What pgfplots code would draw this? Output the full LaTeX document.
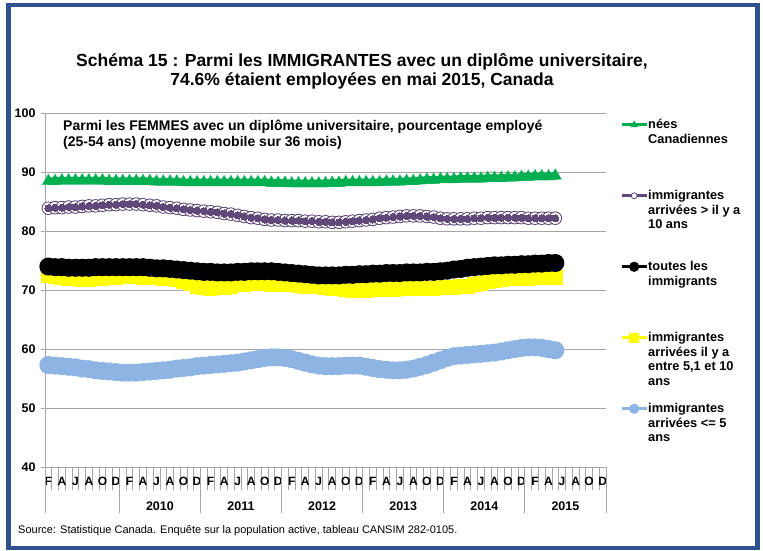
\documentclass[border=0pt]{standalone}
\usepackage{pgfplots}
\usepackage{pgfplotstable}
\pgfplotsset{compat=1.18}
\usepackage{fontspec}
\setmainfont{Liberation Sans}
\definecolor{cgreen}{RGB}{0,176,80}
\definecolor{cpurple}{RGB}{96,73,122}
\definecolor{cyellow}{RGB}{255,255,0}
\definecolor{cblue}{RGB}{141,180,226}
\definecolor{cgrid}{RGB}{166,166,166}
\definecolor{frameblue}{RGB}{47,82,143}
\pgfplotstableread{
x g p k y b
0 88.5 83.9 74.0 72.5 57.3
1 88.5 84.0 73.9 72.3 57.2
2 88.6 84.0 73.9 72.1 57.1
3 88.6 84.1 73.8 72.0 57.0
4 88.6 84.1 73.8 71.9 56.9
5 88.6 84.2 73.8 71.8 56.7
6 88.6 84.3 73.8 71.8 56.6
7 88.6 84.3 73.9 71.9 56.4
8 88.6 84.4 73.9 72.0 56.3
9 88.5 84.5 73.9 72.1 56.2
10 88.5 84.5 73.9 72.2 56.1
11 88.5 84.6 73.9 72.3 56.0
12 88.5 84.6 73.9 72.3 56.0
13 88.5 84.6 73.9 72.3 56.0
14 88.5 84.5 73.9 72.2 56.1
15 88.5 84.4 73.8 72.2 56.2
16 88.4 84.3 73.7 72.1 56.3
17 88.4 84.1 73.7 72.0 56.4
18 88.4 84.0 73.6 71.9 56.5
19 88.4 83.9 73.5 71.8 56.7
20 88.3 83.7 73.4 71.5 56.8
21 88.3 83.6 73.3 71.1 56.9
22 88.3 83.5 73.2 70.7 57.1
23 88.3 83.4 73.1 70.4 57.2
24 88.3 83.3 73.1 70.3 57.3
25 88.3 83.2 73.0 70.4 57.4
26 88.3 83.0 73.0 70.5 57.5
27 88.3 82.9 73.0 70.7 57.6
28 88.3 82.7 73.1 70.9 57.7
29 88.3 82.5 73.1 71.0 57.9
30 88.3 82.3 73.2 71.1 58.1
31 88.3 82.2 73.2 71.1 58.3
32 88.3 82.0 73.2 71.1 58.5
33 88.2 81.9 73.2 71.0 58.6
34 88.2 81.9 73.1 71.0 58.6
35 88.2 81.8 73.0 70.9 58.5
36 88.1 81.8 72.9 70.9 58.3
37 88.1 81.8 72.8 70.8 58.0
38 88.1 81.7 72.7 70.7 57.7
39 88.1 81.7 72.6 70.7 57.4
40 88.1 81.6 72.5 70.6 57.2
41 88.1 81.6 72.5 70.5 57.1
42 88.2 81.5 72.5 70.3 57.1
43 88.2 81.5 72.5 70.2 57.1
44 88.3 81.6 72.6 70.1 57.2
45 88.3 81.7 72.6 70.0 57.2
46 88.3 81.8 72.7 70.0 57.2
47 88.3 81.9 72.7 70.0 57.0
48 88.3 82.0 72.8 70.1 56.8
49 88.3 82.2 72.8 70.1 56.6
50 88.4 82.3 72.9 70.1 56.5
51 88.4 82.4 72.9 70.1 56.4
52 88.4 82.5 72.9 70.2 56.4
53 88.5 82.6 73.0 70.2 56.5
54 88.5 82.6 73.0 70.2 56.7
55 88.6 82.6 73.0 70.2 57.0
56 88.7 82.5 73.1 70.3 57.3
57 88.7 82.4 73.1 70.3 57.7
58 88.8 82.2 73.2 70.4 58.1
59 88.8 82.1 73.3 70.4 58.5
60 88.8 82.1 73.5 70.5 58.8
61 88.9 82.1 73.6 70.6 58.9
62 88.9 82.1 73.8 70.7 59.0
63 88.9 82.2 73.9 70.9 59.1
64 88.9 82.2 74.0 71.1 59.2
65 89.0 82.3 74.1 71.4 59.3
66 89.0 82.3 74.2 71.6 59.4
67 89.0 82.3 74.2 71.8 59.6
68 89.1 82.3 74.3 71.9 59.8
69 89.1 82.3 74.3 71.9 60.0
70 89.2 82.3 74.4 72.0 60.2
71 89.2 82.2 74.4 72.0 60.3
72 89.3 82.2 74.5 72.1 60.3
73 89.3 82.2 74.5 72.1 60.2
74 89.3 82.2 74.6 72.2 60.0
75 89.4 82.2 74.6 72.2 59.8
}\datatable
\pgfplotsset{limg/.style={legend image code/.code={\draw[mark repeat=2,mark phase=2,##1] plot coordinates {(0pt,4pt) (12.5pt,4pt) (25pt,4pt)};}}}
\begin{document}
\begin{tikzpicture}[x=1pt,y=1pt]
\path (0,0) rectangle (763,551);
\draw[line width=4.5pt, frameblue] (8.5,3) rectangle (757.5,546);
\begin{axis}[
  at={(45pt,84pt)}, anchor=south west,
  width=561pt, height=353.7pt, scale only axis,
  xmin=-0.5, xmax=82.5, ymin=40, ymax=100,
  ytick={40,50,...,100},
  extra y ticks={40,50,...,100}, extra y tick labels={},
  extra y tick style={major tick length=3.5pt, tick style={color=cgrid, line width=0.8pt}},
  ymajorgrids, grid style={color=cgrid, line width=0.8pt},
  axis x line*=bottom, axis y line*=left,
  axis line style={color=cgrid, line width=0.8pt, -},
  xtick={0,2,...,82},
  xticklabels={F,A,J,A,O,D,F,A,J,A,O,D,F,A,J,A,O,D,F,A,J,A,O,D,F,A,J,A,O,D,F,A,J,A,O,D,F,A,J,A,O,D},
  minor xtick={-0.5,0.5,...,82.5},
  extra x ticks={-0.5,10.5,22.5,34.5,46.5,58.5,70.5,82.5}, extra x tick labels={},
  extra x tick style={major tick length=46pt, tick style={color=cgrid, line width=0.8pt}},
  tick align=outside,
  major tick length=0pt, minor tick length=23pt,
  minor tick style={color=cgrid, line width=0.8pt},
  /pgf/number format/assume math mode=true,
  ticklabel style={font=\bfseries\fontsize{12.5}{14}\selectfont},
  xticklabel style={yshift=-10pt, inner sep=0pt, font=\bfseries\fontsize{12}{14}\selectfont},
  yticklabel style={xshift=-6pt},
  clip=false,
  legend style={draw=none, fill=none, at={(1,1)}, anchor=north west, xshift=14pt, yshift=-6pt,
    inner sep=0pt, row sep=0pt, column sep=0pt, cells={anchor=base west},
    nodes={inner sep=0pt, text depth={}}, font=\bfseries\fontsize{12.8}{14.5}\selectfont},
]
\addplot[cgreen, line width=7.5pt, mark=triangle*, mark size=7pt, mark options={solid, line width=0.3pt}, forget plot] table[x=x,y=g]{\datatable};
\addplot[only marks, mark=*, mark size=6.3pt, mark options={draw=cpurple, fill=white, line width=0.9pt}, forget plot] table[x=x,y=p]{\datatable};
\addplot[cpurple, line width=7pt, mark=*, mark size=3.6pt, mark options={solid, draw=cpurple, fill=cpurple, line width=0pt}, forget plot] table[x=x,y=p]{\datatable};
\addplot[cyellow, line width=8pt, mark=square*, mark size=3.5pt, mark options={solid}, forget plot] table[x=x,y=y]{\datatable};
\addplot[black, line width=5pt, mark=*, mark size=6.5pt, mark options={solid}, forget plot] table[x=x,y=k]{\datatable};
\addplot[cblue, line width=5pt, mark=*, mark size=6.5pt, mark options={solid}, forget plot] table[x=x,y=b]{\datatable};
\addlegendimage{limg, cgreen, line width=3pt, mark=triangle*, mark size=4pt, mark options={solid, line width=0.3pt}}
\addlegendentry{\parbox[t][71pt][t]{110pt}{nées\\Canadiennes}}
\addlegendimage{limg, cpurple, line width=3pt, mark=*, mark size=3pt, mark options={solid, fill=white, line width=0.8pt}}
\addlegendentry{\parbox[t][71pt][t]{110pt}{immigrantes\\arrivées > il y a\\10 ans}}
\addlegendimage{limg, black, line width=3pt, mark=*, mark size=3.5pt}
\addlegendentry{\parbox[t][71pt][t]{110pt}{toutes les\\immigrants}}
\addlegendimage{limg, cyellow, line width=3pt, mark=square*, mark size=3.5pt}
\addlegendentry{\parbox[t][71pt][t]{110pt}{immigrantes\\arrivées il y a\\entre 5,1 et 10\\ans}}
\addlegendimage{limg, cblue, line width=3pt, mark=*, mark size=3.5pt}
\addlegendentry{\parbox[t][71pt][t]{110pt}{immigrantes\\arrivées <= 5\\ans}}
\foreach \yr/\c in {2010/16.5,2011/28.5,2012/40.5,2013/52.5,2014/64.5,2015/76.5}{
  \edef\tmp{\noexpand\node[font=\noexpand\bfseries\noexpand\fontsize{12.5}{14}\noexpand\selectfont] at (axis cs:\c,40) [yshift=-39pt] {\yr};}\tmp
}
\end{axis}
\node[align=center, font=\bfseries\fontsize{17.5}{19.5}\selectfont] at (362,479.5) {Schéma 15 : Parmi les IMMIGRANTES avec un diplôme universitaire,\\74.6\% étaient employées en mai 2015, Canada};
\node[anchor=north west, align=left, inner sep=0pt, font=\bfseries\fontsize{14}{16}\selectfont] at (63,431) {Parmi les FEMMES avec un diplôme universitaire, pourcentage employé\\(25-54 ans) (moyenne mobile sur 36 mois)};
\node[anchor=west, inner sep=0pt, font=\fontsize{11}{13}\selectfont] at (18,20) {Source: Statistique Canada. Enquête sur la population active, tableau CANSIM 282-0105.};
\end{tikzpicture}
\end{document}
